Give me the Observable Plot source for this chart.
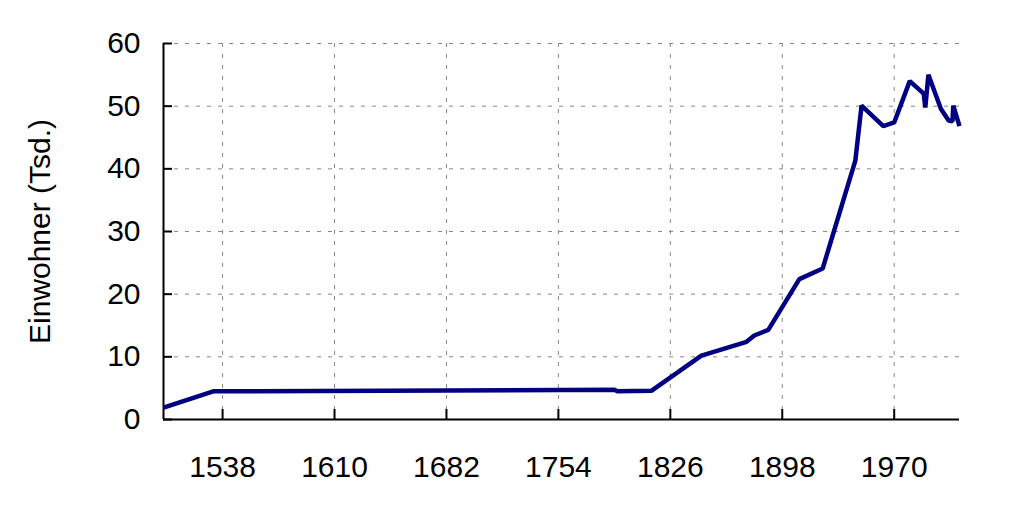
<!DOCTYPE html>
<html>
<head>
<meta charset="utf-8">
<script src="https://cdn.jsdelivr.net/npm/d3@7"></script>
<script src="https://cdn.jsdelivr.net/npm/@observablehq/plot@0.6"></script>
<style>
  html, body { margin: 0; padding: 0; background: #fff; }
</style>
</head>
<body>
<div id="chart"></div>
<script>
// Data
const years = [1500, 1532, 1790, 1792, 1814, 1846, 1875, 1880, 1889, 1909, 1924, 1945, 1949, 1963, 1970, 1980, 1989, 1990, 1992, 2000, 2005, 2007.5, 2008, 2012];
const population = [1.9, 4.5, 4.75, 4.5, 4.6, 10.2, 12.4, 13.4, 14.3, 22.4, 24.1, 41.3, 50.1, 46.8, 47.4, 54.0, 52.0, 49.8, 55.0, 49.6, 47.7, 47.6, 50.1, 46.8];

const xTicks = [1538, 1610, 1682, 1754, 1826, 1898, 1970];
const yTicks = [0, 10, 20, 30, 40, 50, 60];
const xDomain = [1500, 2012];
const yDomain = [0, 60];
const yLabel = "Einwohner (Tsd.)";

const data = years.map((y, i) => ({year: y, value: population[i]}));

const W = 1024, H = 512;
const mL = 163, mR = 65, mT = 43, mB = 93;
const plotW = W - mL - mR, plotH = H - mT - mB;
const FS = 30;
const gridStyle = {stroke: "#888", strokeOpacity: 1, strokeWidth: 1, strokeDasharray: "4,7"};

const chart = Plot.plot({
  width: W,
  height: H,
  marginLeft: mL,
  marginRight: mR,
  marginTop: mT,
  marginBottom: mB,
  style: {fontFamily: "'Liberation Sans', Arial, sans-serif", fontSize: FS + "px", background: "#fff", color: "#000"},
  x: {domain: xDomain},
  y: {domain: yDomain},
  marks: [
    Plot.gridX(xTicks, gridStyle),
    Plot.gridY(yTicks, gridStyle),
    Plot.tickX(xTicks, {x: d => d, stroke: "#000", strokeWidth: 2, insetTop: plotH - 10}),
    Plot.tickY(yTicks, {y: d => d, stroke: "#000", strokeWidth: 2, insetRight: plotW - 9}),
    Plot.ruleY([yDomain[0]], {stroke: "#000", strokeWidth: 2}),
    Plot.ruleX([xDomain[0]], {stroke: "#000", strokeWidth: 2}),
    Plot.axisX(xTicks, {tickSize: 0, tickPadding: 36, tickFormat: d => String(d), fontSize: FS, label: null}),
    Plot.axisY(yTicks, {tickSize: 0, tickPadding: 23, tickFormat: d => String(d), fontSize: FS, label: yLabel, labelAnchor: "center", labelOffset: 135, labelArrow: "none"}),
    Plot.lineY(data, {x: "year", y: "value", stroke: "#000080", strokeWidth: 4.5, strokeLinejoin: "miter", strokeLinecap: "butt"})
  ]
});
document.getElementById("chart").appendChild(chart);
</script>
</body>
</html>
